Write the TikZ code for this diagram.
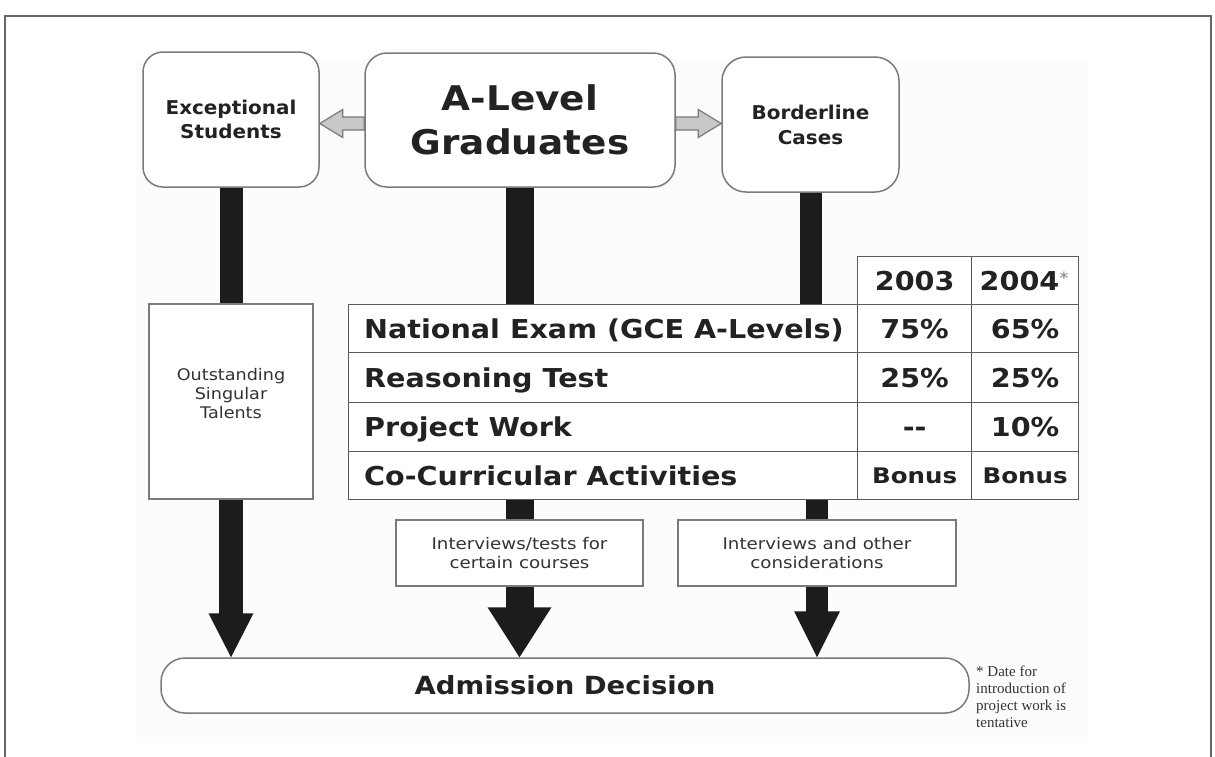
\documentclass[tikz,border=0pt]{standalone}
\usepackage{fontspec}
\setmainfont{Liberation Serif}
\newfontfamily\sfA[FakeStretch=1.05]{DejaVu Sans}
\newfontfamily\sfB[FakeStretch=1.1]{DejaVu Sans}
\newfontfamily\sfC[FakeStretch=1.14]{DejaVu Sans}
\usetikzlibrary{calc}
\definecolor{boxline}{HTML}{7A7A7A}
\definecolor{tabline}{HTML}{5A5A5A}
\definecolor{barcol}{HTML}{1C1C1C}
\definecolor{ink}{HTML}{222222}
\definecolor{softink}{HTML}{333333}
\definecolor{arrowfill}{HTML}{C8C8C8}
\definecolor{framecol}{HTML}{666666}
\definecolor{panel}{HTML}{FCFCFC}
\definecolor{stargray}{HTML}{808080}
\pgfdeclarelayer{bg}
\pgfsetlayers{bg,main}
\begin{document}
\begin{tikzpicture}[x=1pt,y=-1pt,
  rbox/.style={draw=boxline, line width=1.5pt, fill=white, inner sep=0pt, align=center, text=ink},
  sbox/.style={draw=boxline, line width=1.5pt, fill=white, inner sep=0pt, align=center, text=softink},
  cell/.style={draw=tabline, line width=1.3pt, fill=white, inner sep=0pt, anchor=north west},
  tlabel/.style={anchor=west, inner sep=0pt, text=ink, text height=19pt, text depth=0pt,
     font=\sfB\bfseries\fontsize{26}{30}\selectfont},
  tval/.style={inner sep=0pt, text=ink, text height=19pt, text depth=0pt,
     font=\sfB\bfseries\fontsize{26}{30}\selectfont},
  bonus/.style={inner sep=0pt, text=ink, text height=15pt, text depth=0pt,
     font=\sfC\bfseries\fontsize{21.5}{25}\selectfont},
  blackbar/.style={draw=barcol, line cap=butt},
  garrow/.style={draw=boxline, fill=arrowfill, line width=1.2pt, line join=miter}
]
\useasboundingbox (0,0) rectangle (1215,756);
\draw[framecol, line width=2pt] (5,780) -- (5,16) -- (1211,16) -- (1211,780);

% top boxes
\node[rbox, rounded corners=20pt, minimum width=176pt, minimum height=135pt,
  font=\sfA\bfseries\fontsize{19}{24}\selectfont] (exc) at (231,119.5) {Exceptional\\Students};
\node[rbox, rounded corners=22pt, minimum width=310pt, minimum height=134pt,
  font=\sfB\bfseries\fontsize{34}{44}\selectfont] (al) at (520,120) {A-Level\\Graduates};
\node[rbox, rounded corners=24pt, minimum width=177pt, minimum height=135pt,
  font=\sfA\bfseries\fontsize{19}{25}\selectfont] (bl) at (810.5,124.5) {Borderline\\Cases};

% gray arrows
\coordinate (lt) at ($(exc.east)+(0,4)$);
\draw[garrow] (lt) -- ++(23,-14) -- ++(0,7.5) -- ($(lt -| al.west)+(0,-6.5)$)
  -- ($(lt -| al.west)+(0,6.5)$) -- ($(lt)+(23,6.5)$) -- ++(0,7.5) -- cycle;
\coordinate (rt) at ($(bl.west)+(0,-1)$);
\draw[garrow] (rt) -- ++(-23,-14) -- ++(0,7.5) -- ($(rt -| al.east)+(0,-6.5)$)
  -- ($(rt -| al.east)+(0,6.5)$) -- ($(rt)+(-23,6.5)$) -- ++(0,7.5) -- cycle;

% left column box
\node[sbox, minimum width=164pt, minimum height=195pt] (ost) at (231,401.5) {};
\node[inner sep=0pt, align=center, text=softink, font=\sfB\fontsize{16}{19}\selectfont]
  (osttxt) at ($(ost.center)+(0,-8)$) {Outstanding\\Singular\\Talents};

% table
\node[cell, minimum width=114pt, minimum height=48pt] (h1) at (857,256) {};
\node[cell, minimum width=107pt, minimum height=48pt] (h2) at (971,256) {};
\node[cell, minimum width=509pt, minimum height=48pt] (r1c0) at (348,304) {};
\node[cell, minimum width=114pt, minimum height=48pt] (r1c1) at (857,304) {};
\node[cell, minimum width=107pt, minimum height=48pt] (r1c2) at (971,304) {};
\node[cell, minimum width=509pt, minimum height=50pt] (r2c0) at (348,352) {};
\node[cell, minimum width=114pt, minimum height=50pt] (r2c1) at (857,352) {};
\node[cell, minimum width=107pt, minimum height=50pt] (r2c2) at (971,352) {};
\node[cell, minimum width=509pt, minimum height=49pt] (r3c0) at (348,402) {};
\node[cell, minimum width=114pt, minimum height=49pt] (r3c1) at (857,402) {};
\node[cell, minimum width=107pt, minimum height=49pt] (r3c2) at (971,402) {};
\node[cell, minimum width=509pt, minimum height=48pt] (r4c0) at (348,451) {};
\node[cell, minimum width=114pt, minimum height=48pt] (r4c1) at (857,451) {};
\node[cell, minimum width=107pt, minimum height=48pt] (r4c2) at (971,451) {};

\node[tval] (th1) at (h1.center) {2003};
\node[tval] (th2) at ($(h2.center)+(-1,0)$) {2004\raisebox{6pt}{\textcolor{stargray}{\mdseries\fontsize{17}{17}\selectfont *}}};
\node[tlabel] (t1) at ($(r1c0.west)+(16,0)$) {National Exam (GCE A-Levels)};
\node[tlabel] (t2) at ($(r2c0.west)+(16,0)$) {Reasoning Test};
\node[tlabel] (t3) at ($(r3c0.west)+(16,0)$) {Project Work};
\node[tlabel] (t4) at ($(r4c0.west)+(16,0)$) {Co-Curricular Activities};
\node[tval] (v11) at (r1c1.center) {75\%};
\node[tval] (v12) at (r1c2.center) {65\%};
\node[tval] (v21) at (r2c1.center) {25\%};
\node[tval] (v22) at (r2c2.center) {25\%};
\node[tval] (v31) at (r3c1.center) {-{}-};
\node[tval] (v32) at (r3c2.center) {10\%};
\node[bonus] (v41) at (r4c1.center) {Bonus};
\node[bonus] (v42) at (r4c2.center) {Bonus};

% interview boxes
\node[sbox, minimum width=247pt, minimum height=66pt, font=\sfC\fontsize{16}{19}\selectfont]
  (i1) at (519.5,553) {Interviews/tests for\\certain courses};
\node[sbox, minimum width=278pt, minimum height=66pt, font=\sfC\fontsize{16}{19}\selectfont]
  (i2) at (817,553) {Interviews and other\\considerations};

% admission
\node[rbox, rounded corners=24pt, minimum width=808pt, minimum height=55pt,
  font=\sfB\bfseries\fontsize{25}{30}\selectfont] (adm) at (565,685.5) {Admission Decision};

% footnote
\node[anchor=north west, inner sep=0pt, align=left, text=softink,
  font=\fontsize{15}{17}\selectfont] (note) at (976,666)
  {* Date for\\introduction of\\project work is\\tentative};

\begin{pgfonlayer}{bg}
  \fill[panel] (136,58) rectangle (1089,743);
  \draw[blackbar, line width=23pt] (exc.south) -- (ost.north);
  \draw[blackbar, line width=28pt] (al.south) -- (al.south |- r1c0.north);
  \draw[blackbar, line width=22pt] (bl.south) -- (bl.south |- r1c0.north);
  \draw[blackbar, line width=24pt] (ost.south) -- ($(ost.south |- adm.north)+(0,-43)$);
  \fill[barcol] (ost.south |- adm.north) -- ++(-22.5,-44) -- ++(45,0) -- cycle;
  \draw[blackbar, line width=28pt] (i1.north |- r4c0.south) -- (i1.north);
  \draw[blackbar, line width=28pt] (i1.south) -- ($(i1.south |- adm.north)+(0,-49)$);
  \fill[barcol] (i1.south |- adm.north) -- ++(-32,-50) -- ++(64,0) -- cycle;
  \draw[blackbar, line width=22pt] (i2.north |- r4c0.south) -- (i2.north);
  \draw[blackbar, line width=22pt] (i2.south) -- ($(i2.south |- adm.north)+(0,-45)$);
  \fill[barcol] (i2.south |- adm.north) -- ++(-23,-46) -- ++(46,0) -- cycle;
\end{pgfonlayer}
\end{tikzpicture}
\end{document}
